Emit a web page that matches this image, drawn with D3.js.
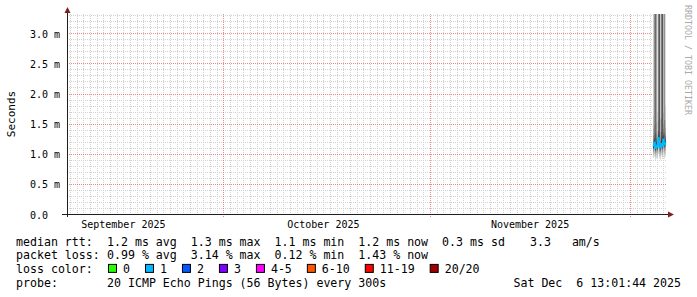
<!DOCTYPE html>
<html lang="en">
<head>
<meta charset="UTF-8"/>
<title>SmokePing - last 90 days</title>
<script src="https://d3js.org/d3.v7.min.js"></script>
<style>
    body { margin: 0; background: #fff; }
    svg { display: block; }
    text { font-family: "DejaVu Sans Mono", monospace; white-space: pre; }
</style>
</head>
<body>
<script>
    var w = 697, h = 297;

    // time range of the graph (90 days)
    var startTime = "2025-09-07 13:01:44";
    var endTime = "2025-12-06 13:01:44";

    // one sample per pixel column (3.6 h consolidated)
    var sampleTimes = ["2025-12-04 10:37", "2025-12-04 14:13", "2025-12-04 17:49", "2025-12-04 21:25",
                       "2025-12-05 01:01", "2025-12-05 04:37", "2025-12-05 08:13", "2025-12-05 11:49",
                       "2025-12-05 15:25", "2025-12-05 19:01", "2025-12-05 22:37", "2025-12-06 02:13",
                       "2025-12-06 05:49"];

    // median rtt in ms
    var medianRtt = [1.12, 1.20, 1.08, 1.15, 1.10, 1.28, 1.13, 1.09, 1.18, 1.11, 1.25, 1.14, 1.20];

    // packet loss in %
    var lossPct = [0.45, 1.20, 0.12, 0.85, 3.14, 0.30, 0.60, 1.05, 0.25, 0.95, 1.80, 0.70, 1.43];

    // 20 sorted pings per sample, ms
    var pingSamples = [
        [0.93,0.97,1.00,1.03,1.05,1.07,1.08,1.09,1.10,1.11,1.13,1.15,1.17,1.20,1.24,1.30,1.42,1.62,5.2,7.8],
        [0.95,1.00,1.05,1.09,1.12,1.14,1.16,1.17,1.18,1.19,1.21,1.23,1.26,1.31,1.48,4.4,5.1,6.3,7.7,9.4],
        [0.90,0.94,0.97,1.00,1.02,1.04,1.05,1.06,1.07,1.08,1.09,1.14,1.35,3.9,4.6,5.3,6.1,7.2,8.5,10.1],
        [0.92,0.97,1.01,1.04,1.07,1.09,1.11,1.12,1.13,1.14,1.16,1.18,1.21,1.25,1.33,1.52,4.5,5.6,6.9,8.8],
        [0.91,0.95,0.99,1.02,1.04,1.06,1.07,1.08,1.09,1.10,1.11,1.12,1.14,1.16,1.19,1.23,1.28,1.37,1.70,6.6],
        [0.99,1.05,1.10,1.14,1.18,1.21,1.23,1.25,1.26,1.27,1.29,1.32,1.38,1.55,4.0,4.8,5.7,6.8,8.1,9.6],
        [0.92,0.96,1.00,1.03,1.06,1.08,1.10,1.11,1.12,1.13,1.15,1.30,3.8,4.3,4.9,5.6,6.4,7.5,8.9,10.6],
        [0.90,0.94,0.98,1.01,1.03,1.05,1.06,1.07,1.08,1.09,1.10,1.12,1.14,1.17,1.21,1.27,1.36,1.58,5.0,7.1],
        [0.96,1.01,1.05,1.09,1.12,1.14,1.15,1.16,1.17,1.18,1.20,1.26,1.36,1.60,4.6,5.2,6.0,7.0,8.3,9.9],
        [0.91,0.95,0.99,1.02,1.05,1.07,1.08,1.09,1.10,1.11,1.14,1.29,4.1,4.6,5.2,5.9,6.8,7.9,9.3,11.0],
        [0.97,1.03,1.08,1.12,1.16,1.19,1.21,1.22,1.23,1.24,1.26,1.28,1.31,1.35,1.41,1.50,1.68,4.8,6.0,7.6],
        [0.92,0.97,1.01,1.04,1.07,1.09,1.11,1.12,1.13,1.14,1.15,1.18,1.24,1.33,1.56,4.9,5.8,6.9,8.2,9.8],
        [0.95,1.00,1.05,1.09,1.12,1.14,1.16,1.17,1.18,1.19,1.21,1.22,1.24,1.27,1.30,1.35,1.42,1.55,1.80,6.9]
    ];

    var yMax = 3.32;
    var yTicks = [0, 0.5, 1.0, 1.5, 2.0, 2.5, 3.0];
    var yTickLabels = ["0.0", "0.5 m", "1.0 m", "1.5 m", "2.0 m", "2.5 m", "3.0 m"];

    var monthLabels = ["September 2025", "October 2025", "November 2025"];
    var monthLabelDates = ["2025-09-16 00:00", "2025-10-16 00:00", "2025-11-16 00:00"];

    // loss legend (loss counts out of 20 pings)
    var lossLabels = ["0", "1", "2", "3", "4-5", "6-10", "11-19", "20/20"];
    var lossUpper = [0, 1, 2, 3, 5, 10, 19, 20];
    var lossColors = ["#26ff00", "#00b8ff", "#0059ff", "#7e00ff", "#ff00ff", "#ff5500", "#ff0000", "#a00000"];

    var legendRows = [
        ["median rtt:", "1.2 ms avg  1.3 ms max  1.1 ms min  1.2 ms now  0.3 ms sd"],
        ["packet loss:", "0.99 % avg  3.14 % max  0.12 % min  1.43 % now"],
        ["loss color:", ""],
        ["probe:", "20 ICMP Echo Pings (56 Bytes) every 300s"]
    ];
    var amsText = "3.3   am/s";
    var stampText = "Sat Dec  6 13:01:44 2025";

    var parseFull = d3.utcParse("%Y-%m-%d %H:%M:%S");
    var parseMin = d3.utcParse("%Y-%m-%d %H:%M");
    var t0 = parseFull(startTime), t1 = parseFull(endTime);

    var pLeft = 67, pRight = 667, pTop = 14, pBottom = 214;

    var xScale = d3.scaleUtc().domain([t0, t1]).range([pLeft, pRight]);
    var yScale = d3.scaleLinear().domain([0, yMax]).range([pBottom, pTop]);

    var svg = d3.select("body").append("svg")
        .attr("width", w).attr("height", h);

    svg.append("rect").attr("width", w).attr("height", h).attr("fill", "#fff");

    svg.append("clipPath").attr("id", "plot")
        .append("rect").attr("x", pLeft).attr("y", pTop)
        .attr("width", pRight - pLeft).attr("height", pBottom - pTop);

    var grid = svg.append("g");
    var minorCol = "#d2d2d2", majorCol = "rgba(222,79,79,0.65)";

    // horizontal minor grid every 0.1 ms
    var minorY = d3.range(1, 34).filter(function(i){ return i % 5 != 0; })
        .map(function(i){ return i / 10; });
    grid.selectAll("line.hmin").data(minorY).enter().append("line")
        .attr("x1", pLeft).attr("x2", pRight)
        .attr("y1", function(d){ return Math.round(yScale(d)) + 0.5; })
        .attr("y2", function(d){ return Math.round(yScale(d)) + 0.5; })
        .attr("stroke", minorCol).attr("stroke-dasharray", "1,1");

    // vertical minor grid every day
    var months = d3.utcMonth.range(t0, t1);
    var days = d3.utcDay.range(d3.utcDay.ceil(t0), t1).filter(function(d){ return d.getUTCDate() != 1; });
    grid.selectAll("line.vmin").data(days).enter().append("line")
        .attr("x1", function(d){ return Math.round(xScale(d)) + 0.5; })
        .attr("x2", function(d){ return Math.round(xScale(d)) + 0.5; })
        .attr("y1", pTop).attr("y2", pBottom + 2)
        .attr("stroke", minorCol).attr("stroke-dasharray", "1,1");

    // major grid
    grid.selectAll("line.hmaj").data(yTicks.slice(1)).enter().append("line")
        .attr("x1", pLeft).attr("x2", pRight)
        .attr("y1", function(d){ return Math.round(yScale(d)) + 0.5; })
        .attr("y2", function(d){ return Math.round(yScale(d)) + 0.5; })
        .attr("stroke", majorCol).attr("stroke-dasharray", "1,1");
    grid.selectAll("line.vmaj").data(months).enter().append("line")
        .attr("x1", function(d){ return Math.round(xScale(d)) + 0.5; })
        .attr("x2", function(d){ return Math.round(xScale(d)) + 0.5; })
        .attr("y1", pTop).attr("y2", pBottom + 3)
        .attr("stroke", majorCol).attr("stroke-dasharray", "1,1");

    // smoke: 10 layers between ping i and ping 21-i, lighter outside
    var smoke = svg.append("g").attr("clip-path", "url(#plot)");
    var step = (t1 - t0) / (pRight - pLeft);
    pingSamples.forEach(function(p, j){
        var t = parseMin(sampleTimes[j]);
        var x0 = Math.round(xScale(t));
        var x1 = Math.round(xScale(new Date(+t + step)));
        for (var ib = 1; ib <= 10; ib++) {
            var it = 21 - ib;
            var c = Math.floor(190 / 10 * (10 - ib)) + 50;
            var yTop = yScale(p[it - 1]), yBot = yScale(p[ib - 1]);
            smoke.append("rect")
                .attr("x", x0).attr("width", Math.max(1, x1 - x0))
                .attr("y", yTop).attr("height", Math.max(0, yBot - yTop))
                .attr("fill", d3.rgb(c, c, c));
        }
    });

    // median line coloured by loss
    function lossColor(pct) {
        var cnt = pct / 100 * 20;
        for (var i = 0; i < lossUpper.length; i++) {
            if (cnt <= lossUpper[i]) return lossColors[i];
        }
        return lossColors[lossColors.length - 1];
    }
    var medPts = medianRtt.map(function(m, j){
        return { x: Math.round(xScale(parseMin(sampleTimes[j]))) + 0.5, y: yScale(m), c: lossColor(lossPct[j]) };
    });
    var line = d3.line().x(function(d){ return d.x; }).y(function(d){ return d.y; });
    for (var j = 1; j < medPts.length; j++) {
        svg.append("path").attr("d", line([medPts[j - 1], medPts[j]]))
            .attr("fill", "none").attr("stroke", medPts[j].c).attr("stroke-width", 2);
    }

    // axes
    var axisCol = "#1f1f1f", arrowCol = "#801f1f";
    svg.append("line").attr("x1", pLeft - 5).attr("x2", pRight + 2)
        .attr("y1", pBottom + 0.5).attr("y2", pBottom + 0.5).attr("stroke", axisCol);
    svg.append("line").attr("x1", pLeft + 0.5).attr("x2", pLeft + 0.5)
        .attr("y1", pBottom + 3).attr("y2", pTop - 3).attr("stroke", axisCol);
    svg.append("path").attr("d", "M" + (pRight + 1) + "," + (pBottom - 2.5) + "L" + (pRight + 7) + "," + (pBottom + 0.5) + "L" + (pRight + 1) + "," + (pBottom + 3.5) + "Z")
        .attr("fill", arrowCol);
    svg.append("path").attr("d", "M" + (pLeft - 2.5) + "," + (pTop - 1) + "L" + (pLeft + 0.5) + "," + (pTop - 7) + "L" + (pLeft + 3.5) + "," + (pTop - 1) + "Z")
        .attr("fill", arrowCol);

    // y tick labels
    svg.selectAll("text.ylab").data(yTicks).enter().append("text")
        .attr("x", 30).attr("y", function(d){ return yScale(d) + 4.5; })
        .attr("font-size", "10px").attr("fill", "#000")
        .text(function(d, i){ return yTickLabels[i]; });

    // x month labels
    svg.selectAll("text.xlab").data(monthLabels).enter().append("text")
        .attr("x", function(d, i){ return xScale(parseMin(monthLabelDates[i])); })
        .attr("y", 228).attr("text-anchor", "middle")
        .attr("font-size", "10px").attr("fill", "#000")
        .text(function(d){ return d; });

    // y axis title
    svg.append("text").attr("transform", "translate(15," + ((pTop + pBottom) / 2) + ") rotate(-90)")
        .attr("text-anchor", "middle").attr("font-size", "11px").attr("fill", "#000")
        .text("Seconds");

    // watermark
    svg.append("text").attr("transform", "translate(685,5) rotate(90)")
        .attr("font-size", "8.3px").attr("fill", "#aaa")
        .text("RRDTOOL / TOBI OETIKER");

    // legend
    var charW = 6.98, fs = "11.6px";
    legendRows.forEach(function(r, i){
        var y = 245.5 + i * 13.7;
        svg.append("text").attr("x", 16).attr("y", y).attr("font-size", fs).text(r[0]);
        if (r[1]) svg.append("text").attr("x", 107).attr("y", y).attr("font-size", fs).text(r[1]);
    });
    svg.append("text").attr("x", 530).attr("y", 245.5).attr("font-size", fs).text(amsText);
    var lx = 108, ly = 245.5 + 2 * 13.7;
    lossLabels.forEach(function(lab, i){
        svg.append("rect").attr("x", lx + 0.5).attr("y", ly - 8.5)
            .attr("width", 8).attr("height", 8)
            .attr("fill", lossColors[i]).attr("stroke", "#000");
        svg.append("text").attr("x", lx + 15).attr("y", ly).attr("font-size", fs).text(lab);
        lx += 30 + lab.length * charW;
    });
    svg.append("text").attr("x", 681).attr("y", 245.5 + 3 * 13.7)
        .attr("text-anchor", "end").attr("font-size", fs).text(stampText);
</script>
</body>
</html>
